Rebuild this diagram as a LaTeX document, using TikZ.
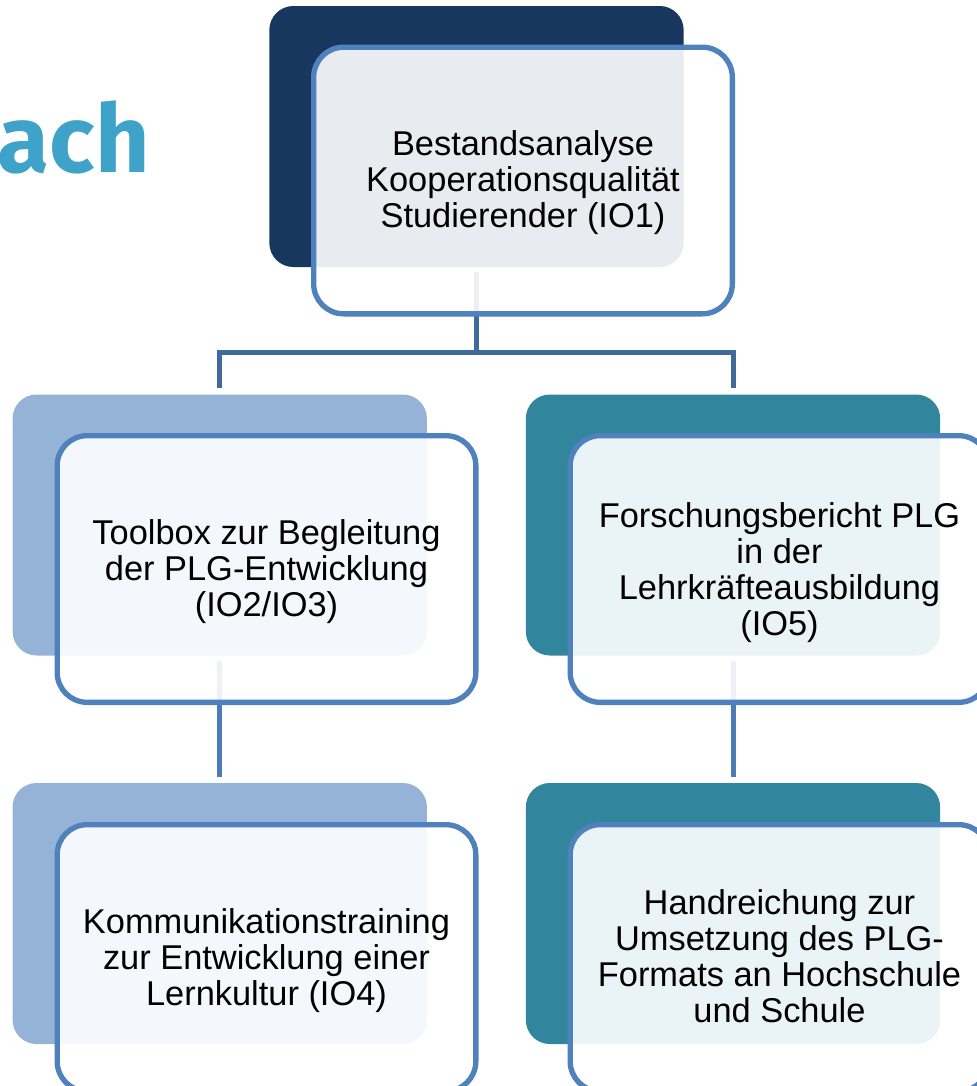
\documentclass[tikz,border=0pt]{standalone}
\usepackage{fontspec}
\setmainfont{Liberation Sans}
\newfontfamily\logofont{Fira Sans}
\definecolor{darkbox}{HTML}{17375E}
\definecolor{lightbox}{HTML}{95B3D7}
\definecolor{tealbox}{HTML}{31859C}
\definecolor{edgeblue}{HTML}{4F81BD}
\definecolor{linkdark}{HTML}{41699B}
\definecolor{linkblue}{HTML}{4C7CB5}
\definecolor{logoblue}{HTML}{3FA2C8}
\tikzset{
  x=0.75pt,y=-0.75pt,
  backbox/.style={rectangle,rounded corners=18pt,minimum width=310.75pt,minimum height=195.75pt,inner sep=0pt,draw=none},
  frontbox/.style={rectangle,rounded corners=22.5pt,draw=edgeblue,line width=4pt,fill=white,fill opacity=.9,
    minimum width=314pt,minimum height=200pt,inner sep=0pt},
  boxtext/.style={inner sep=0pt,align=center,text=black,font=\fontsize{25.8}{27}\selectfont},
  link/.style={line width=3.75pt},
}
\begin{document}
\begin{tikzpicture}
\useasboundingbox (0,0) rectangle (976,1086);
\node[anchor=base east,text=logoblue,inner sep=0pt,font=\logofont\bfseries\fontsize{71}{71}\selectfont] (logo) at (150,172) {ach};
\node[backbox,fill=darkbox]  (top) at (476.5,136.5) {};
\node[backbox,fill=lightbox] (l1)  at (219.75,525) {};
\node[backbox,fill=tealbox]  (r1)  at (733,525) {};
\node[backbox,fill=lightbox] (l2)  at (219.75,913.5) {};
\node[backbox,fill=tealbox]  (r2)  at (733,913.5) {};
\coordinate (topstart) at ([yshift=-3.75pt]top.south);
\coordinate (l1end) at ([yshift=4.5pt]l1.north);
\coordinate (r1end) at ([yshift=4.5pt]r1.north);
\draw[link,linkdark] (topstart) -- ++(0,80);
\draw[link,linkdark] (l1end) -- ++(0,-36) -| (r1end);
\draw[link,linkblue] ([yshift=-3.75pt]l1.south) -- ([yshift=4.5pt]l2.north);
\draw[link,linkblue] ([yshift=-3.75pt]r1.south) -- ([yshift=4.5pt]r2.north);
\node[frontbox] (topf) at (523,180.5) {};
\node[frontbox] (l1f) at (266.5,569) {};
\node[frontbox] (r1f) at (779.5,569) {};
\node[frontbox] (l2f) at (266.5,958) {};
\node[frontbox] (r2f) at (779.5,958) {};
\node[boxtext] (topt) at (523,182.5) {Bestandsanalyse\\Kooperationsqualität\\Studierender (IO1)};
\node[boxtext] (l1t) at (266.5,572) {Toolbox zur Begleitung\\der PLG-Entwicklung\\(IO2/IO3)};
\node[boxtext] (r1t) at (779.5,572.5) {Forschungsbericht PLG\\in der\\Lehrkräfteausbildung\\(IO5)};
\node[boxtext] (l2t) at (266.5,961) {Kommunikationstraining\\zur Entwicklung einer\\Lernkultur (IO4)};
\node[boxtext] (r2t) at (779.5,956) {Handreichung zur\\Umsetzung des PLG-\\Formats an Hochschule\\und Schule};
\end{tikzpicture}
\end{document}
